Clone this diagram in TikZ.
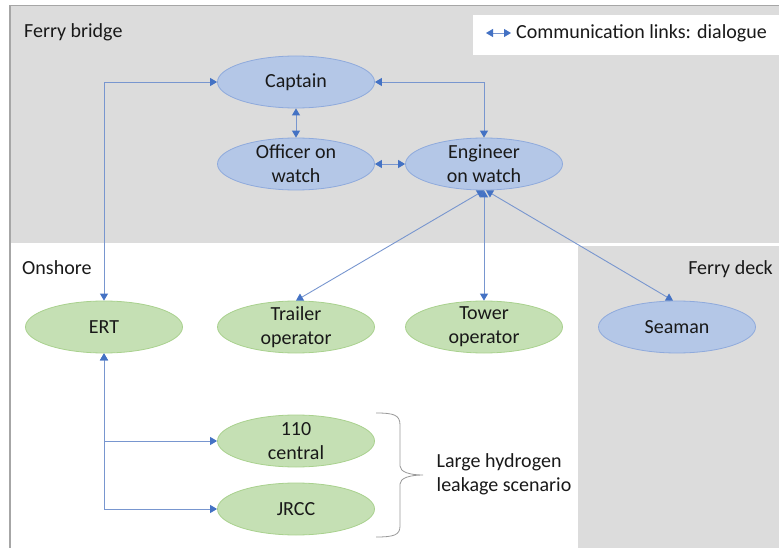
\documentclass[tikz,border=0pt]{standalone}
\usepackage{fontspec}
\setmainfont{Carlito}
\usetikzlibrary{shapes.geometric,arrows.meta}
\definecolor{bgray}{HTML}{DCDCDC}
\definecolor{bluefill}{HTML}{B4C7E7}
\definecolor{blueline}{HTML}{8FAADC}
\definecolor{greenfill}{HTML}{C5E0B4}
\definecolor{greenline}{HTML}{A9D18E}
\definecolor{linkcol}{HTML}{7896CF}
\definecolor{tipcol}{HTML}{4472C4}
\tikzset{
  txt/.style={font=\fontsize{20}{24}\selectfont, text=black!90, align=center, inner sep=0pt},
  ell/.style={ellipse, minimum width=157pt, minimum height=52pt, inner sep=0pt, line width=0.8pt},
  bluell/.style={ell, fill=bluefill, draw=blueline},
  greenell/.style={ell, fill=greenfill, draw=greenline},
  link/.style={draw=linkcol, line width=0.9pt, {Triangle[width=8pt,length=7pt,fill=tipcol,color=tipcol]}-{Triangle[width=8pt,length=7pt,fill=tipcol,color=tipcol]}},
  region/.style={txt, anchor=base west}
}
\begin{document}
\begin{tikzpicture}[x=1pt,y=-1pt]
\useasboundingbox (0,0) rectangle (779,548);
% backgrounds
\fill[bgray] (10,6) rectangle (779,243);
\fill[bgray] (578,246) rectangle (779,548);
\draw[gray!70, line width=1.5pt] (10,548) -- (10,5.5) -- (779,5.5);
% legend
\fill[white] (473,15) rectangle (779,55);
\coordinate (la) at (486,33);
\coordinate (lb) at (511,33);
\draw[link] (la) -- (lb);
\node[txt, anchor=west] (legtxt) at (516,33) {Communication links: dialogue};
% region labels
\node[region] (lbridge) at (24,38) {Ferry bridge};
\node[region] (lonshore) at (22,274) {Onshore};
\node[txt, anchor=base east] (ldeck) at (773,274) {Ferry deck};
% nodes
\node[bluell, label={[txt]center:Captain}] (cap) at (296,82) {};
\node[bluell, label={[txt]center:Officer on\\watch}] (off) at (296,164) {};
\node[bluell, label={[txt]center:Engineer\\on watch}] (eng) at (484,164) {};
\node[greenell, label={[txt]center:ERT}] (ert) at (104,327) {};
\node[greenell, label={[txt]center:Trailer\\operator}] (trl) at (296,327) {};
\node[greenell, label={[txt]center:Tower\\operator}] (tow) at (484,327) {};
\node[bluell, label={[txt]center:Seaman}] (sea) at (677,327) {};
\node[greenell, label={[txt]center:110\\central}] (cen) at (296,441) {};
\node[greenell, label={[txt]center:JRCC}] (jrcc) at (296,509) {};
% connectors
\draw[link] (cap.west) -| (ert.north);
\draw[link] (cap.east) -| (eng.north);
\draw[link] (cap.south) -- (off.north);
\draw[link] (off.east) -- (eng.west);
\draw[link] (eng.south) -- (trl.north);
\draw[link] (eng.south) -- (tow.north);
\draw[link] ([xshift=2pt]eng.south) -- ([xshift=-4pt]sea.north);
\draw[link] (ert.south) |- (cen.west);
\draw[link] (ert.south) |- (jrcc.west);
% brace
\draw[gray!80, line width=0.8pt] (376,413) .. controls (394,413) and (400,415) .. (400,425) -- (400,466) .. controls (400,472) and (410,475) .. (423,475) .. controls (410,475) and (400,478) .. (400,484) -- (400,526) .. controls (400,535) and (394,537) .. (376,537);
\node[txt, align=left] (scen) at (504,474) {Large hydrogen\\leakage scenario};
\end{tikzpicture}
\end{document}
